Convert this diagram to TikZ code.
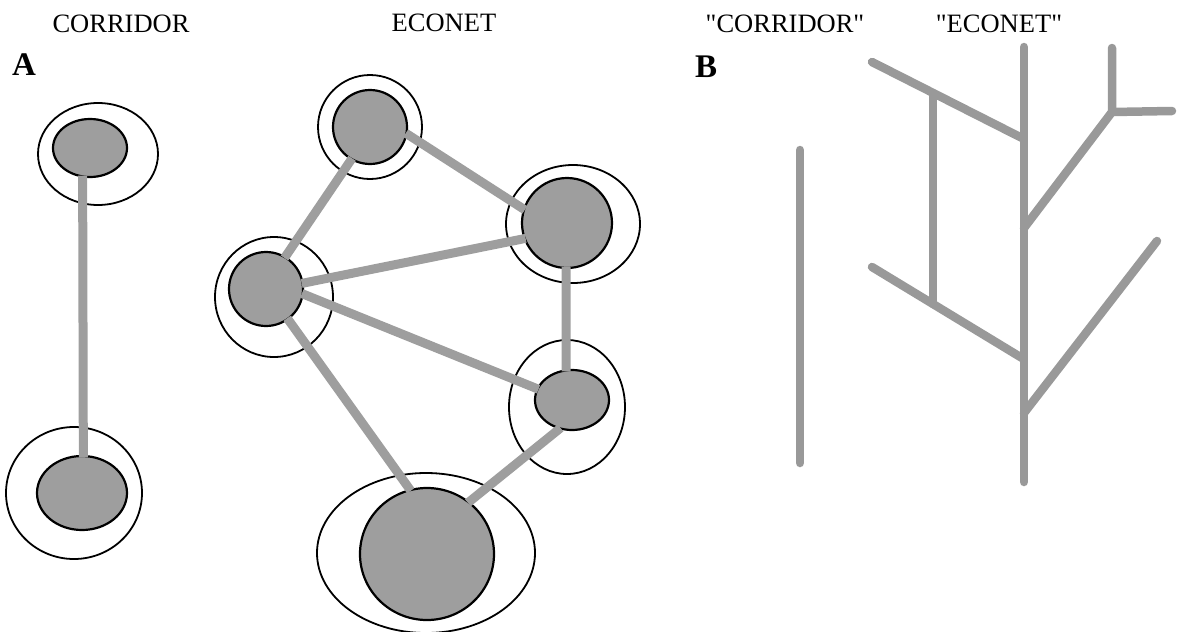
\documentclass[tikz,border=0pt]{standalone}
\usepackage{fontspec}
\setmainfont{Liberation Serif}[Ligatures=TeXOff]
\usetikzlibrary{shapes.geometric}
\newcommand{\dq}{\XeTeXglyph\XeTeXglyphindex "quotedbl"\relax}

\tikzset{
  patch/.style={ellipse, draw=black, line width=2.2pt, fill=black!38, inner sep=0pt},
  buffer/.style={draw=black, line width=1.8pt},
  link/.style={draw=black!38, line width=9pt, shorten <=-2pt, shorten >=-2pt},
  greenway/.style={draw=black!40, line width=8.5pt, line cap=round},
  caption/.style={font=\fontsize{26.5}{30}\selectfont, anchor=base},
  panel/.style={font=\fontsize{33}{36}\selectfont\bfseries, anchor=base west, inner sep=0pt},
}

\begin{document}
\begin{tikzpicture}[x=1pt,y=1pt,yscale=-1,xscale=1]
  \useasboundingbox (0,0) rectangle (1181,632);

  % Text Node
  \node[caption] (tcor) at (121,32) {CORRIDOR};
  \node[caption] (teco) at (444,31) {ECONET};
  \node[caption] (tcorq) at (785,32) {\dq CORRIDOR\dq};
  \node[caption] (tecoq) at (999,32) {\dq ECONET\dq};
  \node[panel] (pa) at (12,75) {A};
  \node[panel] (pb) at (695,77) {B};

  %Ellipse (buffer zones)
  \draw[buffer] (98,154) ellipse (60 and 51);
  \draw[buffer] (74,493) ellipse (68 and 66);
  \draw[buffer] (370,127) ellipse (52 and 52);
  \draw[buffer] (573,224) ellipse (67 and 59);
  \draw[buffer] (274,297) ellipse (59 and 60);
  \draw[buffer] (567,407) ellipse (58 and 67);
  \draw[buffer] (426,553) ellipse (109 and 80);

  %Ellipse (core areas)
  \node[patch, minimum width=74, minimum height=58] (ctop) at (90,148) {};
  \node[patch, minimum width=90, minimum height=74] (cbot) at (82,493) {};
  \node[patch, minimum width=74, minimum height=74] (e1) at (370,127) {};
  \node[patch, minimum width=90, minimum height=90] (e2) at (567,223) {};
  \node[patch, minimum width=74, minimum height=74] (e3) at (266,289) {};
  \node[patch, minimum width=74, minimum height=60] (e4) at (572,400) {};
  \node[patch, minimum width=134, minimum height=132] (e5) at (427,554) {};

  %Straight Lines (links)
  \draw[link] (ctop.256) -- (cbot.88);
  \draw[link] (e1.240) -- (e3.59);
  \draw[link] (e1.-11) -- (e2.162);
  \draw[link] (e3.9) -- (e2.200);
  \draw[link] (e3.-8) -- (e4.162);
  \draw[link] (e2.269) -- (e4.101);
  \draw[link] (e3.-54) -- (e5.105);
  \draw[link] (e4.246) -- (e5.51);

  %Straight Lines (panel B)
  \coordinate (ctrtop) at (800,150);
  \coordinate (ctrbot) at (800,463);
  \coordinate (trunktop) at (1024,47);
  \coordinate (trunkbot) at (1024,482);
  \coordinate (ulend) at (872,62);
  \coordinate (uljoin) at (1022,138);
  \coordinate (llend) at (872,267);
  \coordinate (lljoin) at (1022,358);
  \coordinate (rungtop) at (933,93);
  \coordinate (rungbot) at (933,304);
  \coordinate (urjoin) at (1024,228);
  \coordinate (fork) at (1112,112);
  \coordinate (forkup) at (1112,48);
  \coordinate (forkright) at (1172,111);
  \coordinate (lrend) at (1157,241);
  \coordinate (lrjoin) at (1024,413);

  \draw[greenway] (ctrtop) -- (ctrbot);
  \draw[greenway] (trunktop) -- (trunkbot);
  \draw[greenway] (ulend) -- (uljoin);
  \draw[greenway] (llend) -- (lljoin);
  \draw[greenway] (rungtop) -- (rungbot);
  \draw[greenway] (urjoin) -- (fork) -- (forkup);
  \draw[greenway] (fork) -- (forkright);
  \draw[greenway] (lrend) -- (lrjoin);

\end{tikzpicture}
\end{document}
